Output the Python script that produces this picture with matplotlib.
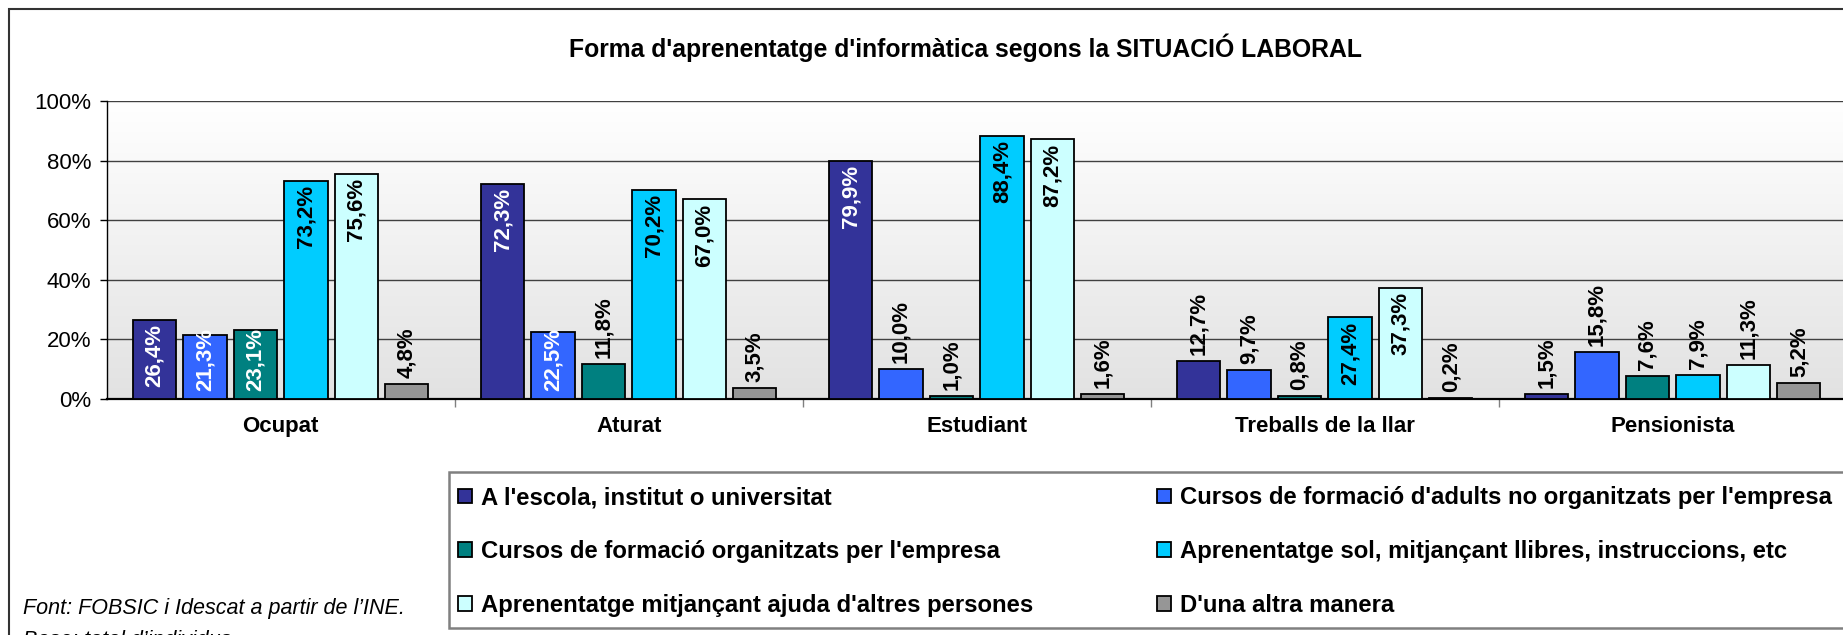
import numpy as np
import matplotlib
matplotlib.use('Agg')
import matplotlib.pyplot as plt
from matplotlib.colors import LinearSegmentedColormap
from matplotlib.patches import Rectangle

plt.rcParams['font.family'] = ['Liberation Sans', 'DejaVu Sans']

# Dades (percentatges)
categories = ['Ocupat', 'Aturat', 'Estudiant', 'Treballs de la llar', 'Pensionista']
series_names = ["A l'escola, institut o universitat",
                "Cursos de formació d'adults no organitzats per l'empresa",
                "Cursos de formació organitzats per l'empresa",
                "Aprenentatge sol, mitjançant llibres, instruccions, etc",
                "Aprenentatge mitjançant ajuda d'altres persones",
                "D'una altra manera"]
escola = [26.4, 72.3, 79.9, 12.7, 1.5]
adults = [21.3, 22.5, 10.0, 9.7, 15.8]
empresa = [23.1, 11.8, 1.0, 0.8, 7.6]
sol = [73.2, 70.2, 88.4, 27.4, 7.9]
ajuda = [75.6, 67.0, 87.2, 37.3, 11.3]
altra = [4.8, 3.5, 1.6, 0.2, 5.2]
yticks = [0, 20, 40, 60, 80, 100]

colors = ['#333399', '#3366FF', '#008080', '#00CCFF', '#CCFFFF', '#969696']
label_colors = ['white', 'white', 'white', 'black', 'black', 'black']
series = [escola, adults, empresa, sol, ajuda, altra]

W, H = 1843, 635
fig = plt.figure(figsize=(W / 100, H / 100), dpi=100)
ax = fig.add_axes([106.7 / W, 1 - 398.7 / H, 1740 / W, 297.4 / H])

# fons amb degradat
cmap = LinearSegmentedColormap.from_list('fons', ['#FFFFFF', '#E2E2E2'])
grad = np.linspace(1, 0, 256)[:, None]
ax.imshow(grad, extent=(-0.5, 4.5, 0, 100), aspect='auto', cmap=cmap,
          origin='lower', zorder=0)

x = np.arange(len(categories))
pitch = 0.145
width = 0.124
lab_len = 21  # llargada aprox. de l'etiqueta en unitats de %
bars = []
for i, vals in enumerate(series):
    xs = x + (i - 2.5) * pitch
    b = ax.bar(xs, vals, width, color=colors[i], edgecolor='black',
               linewidth=1.3, zorder=3, label=series_names[i])
    bars.append(b)
    for xx, v in zip(xs, vals):
        txt = f'{v:.1f}%'.replace('.', ',')
        if v > 20:
            ax.text(xx, max(v - 1.4, 2.7 + lab_len), txt, rotation=90,
                    ha='center', va='top', fontsize=16, fontweight='bold',
                    color=label_colors[i], zorder=4)
        else:
            ax.text(xx, v + 2.0, txt, rotation=90, ha='center', va='bottom',
                    fontsize=16, fontweight='bold', color='black', zorder=4)

ax.set_xlim(-0.5, 4.5)
ax.set_ylim(0, 100)
ax.set_yticks(yticks)
ax.set_yticklabels([f'{t}%' for t in yticks], fontsize=16)
ax.set_xticks(x)
ax.set_xticklabels(categories, fontsize=16, fontweight='bold')
ax.set_xticks(x[:-1] + 0.5, minor=True)
ax.tick_params(axis='x', which='major', length=0, pad=12.5)
ax.tick_params(axis='x', which='minor', length=6, width=1, color='#808080')
ax.tick_params(axis='y', length=5, width=1, pad=6)
ax.yaxis.grid(True, color='#404040', linewidth=1)
ax.set_axisbelow(True)
for s in ['top', 'right']:
    ax.spines[s].set_visible(False)
ax.spines['left'].set_linewidth(1)
ax.spines['bottom'].set_linewidth(1.6)

# marc exterior
fig.patches.append(Rectangle((9 / W, -0.1), 1.2, 1.1 - 9 / H, transform=fig.transFigure,
                             fill=False, edgecolor='#333333', linewidth=1.5))

fig.text(965.7 / W, 1 - 57.3 / H,
         "Forma d'aprenentatge d'informàtica segons la SITUACIÓ LABORAL",
         ha='center', va='baseline', fontsize=17.8, fontweight='bold')

# llegenda
fig.patches.append(Rectangle((449.3 / W, 1 - 628.3 / H), 1.0, 156.6 / H,
                             transform=fig.transFigure, facecolor='white',
                             edgecolor='#808080', linewidth=1.8, zorder=1))
order = [0, 2, 4, 1, 3, 5]
leg = fig.legend([bars[k] for k in order], [series_names[k] for k in order],
                 loc='center left', bbox_to_anchor=(458 / W, 1 - 551.5 / H),
                 ncol=2, frameon=False, borderpad=0, borderaxespad=0,
                 handlelength=0.58, handleheight=0.58, handletextpad=0.4,
                 labelspacing=1.28, columnspacing=5.15,
                 prop={'weight': 'bold', 'size': 17.2})
for p in leg.get_patches():
    p.set_linewidth(1.3)

fig.text(22.7 / W, 1 - 614 / H, 'Font: FOBSIC i Idescat a partir de l’INE.',
         ha='left', va='baseline', fontsize=15.5, style='italic')
fig.text(22.7 / W, 1 - 645.7 / H, 'Base: total d’individus',
         ha='left', va='baseline', fontsize=15.5, style='italic')

fig.savefig('out.png', dpi=100)
